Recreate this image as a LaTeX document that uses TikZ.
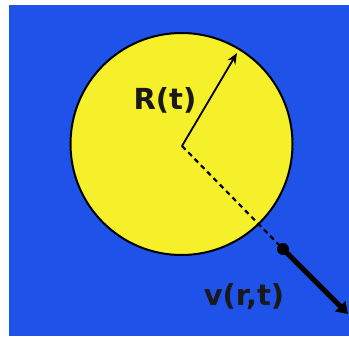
\documentclass[tikz,border=0pt]{standalone}
\usepackage{fontspec}
\setmainfont{DejaVu Sans}
\usetikzlibrary{arrows.meta}
\definecolor{bgblue}{RGB}{30,82,232}
\definecolor{diskyellow}{RGB}{246,240,42}
\tikzset{
  lbl/.style={font=\bfseries\fontsize{29}{32}\selectfont, text=black!90, inner sep=0pt},
  thinarrow/.style={draw=black, line width=1.8pt, -{Stealth[length=11pt,width=9pt]}},
  dashline/.style={draw=black, line width=2.2pt, dash pattern=on 5pt off 4pt},
  thickarrow/.style={draw=black, line width=5pt, -{Triangle[length=11pt,width=14pt]}},
}
\begin{document}
\begin{tikzpicture}[x=1pt,y=-1pt]
\useasboundingbox (0,0) rectangle (349,338);
\fill[white] (0,0) rectangle (349,338);
\fill[bgblue] (9,5) rectangle (349,336);
\coordinate (c) at (182,146);
\node[circle, fill=diskyellow, draw=black, line width=2pt, minimum size=222pt, inner sep=0pt] (disk) at (181.5,144) {};
\coordinate (rtip) at (237,53);
\node[circle, fill=black, minimum size=12pt, inner sep=0pt] (dot) at (283,249) {};
\coordinate (vend) at (348,314);
\draw[thinarrow] (c) -- (rtip);
\draw[dashline] (c) -- (dot.center);
\draw[thickarrow] (dot.center) -- (vend);
\node[lbl] (rlabel) at (165,100) {R(t)};
\node[lbl] (vlabel) at (244,297) {v(r,t)};
\end{tikzpicture}
\end{document}
